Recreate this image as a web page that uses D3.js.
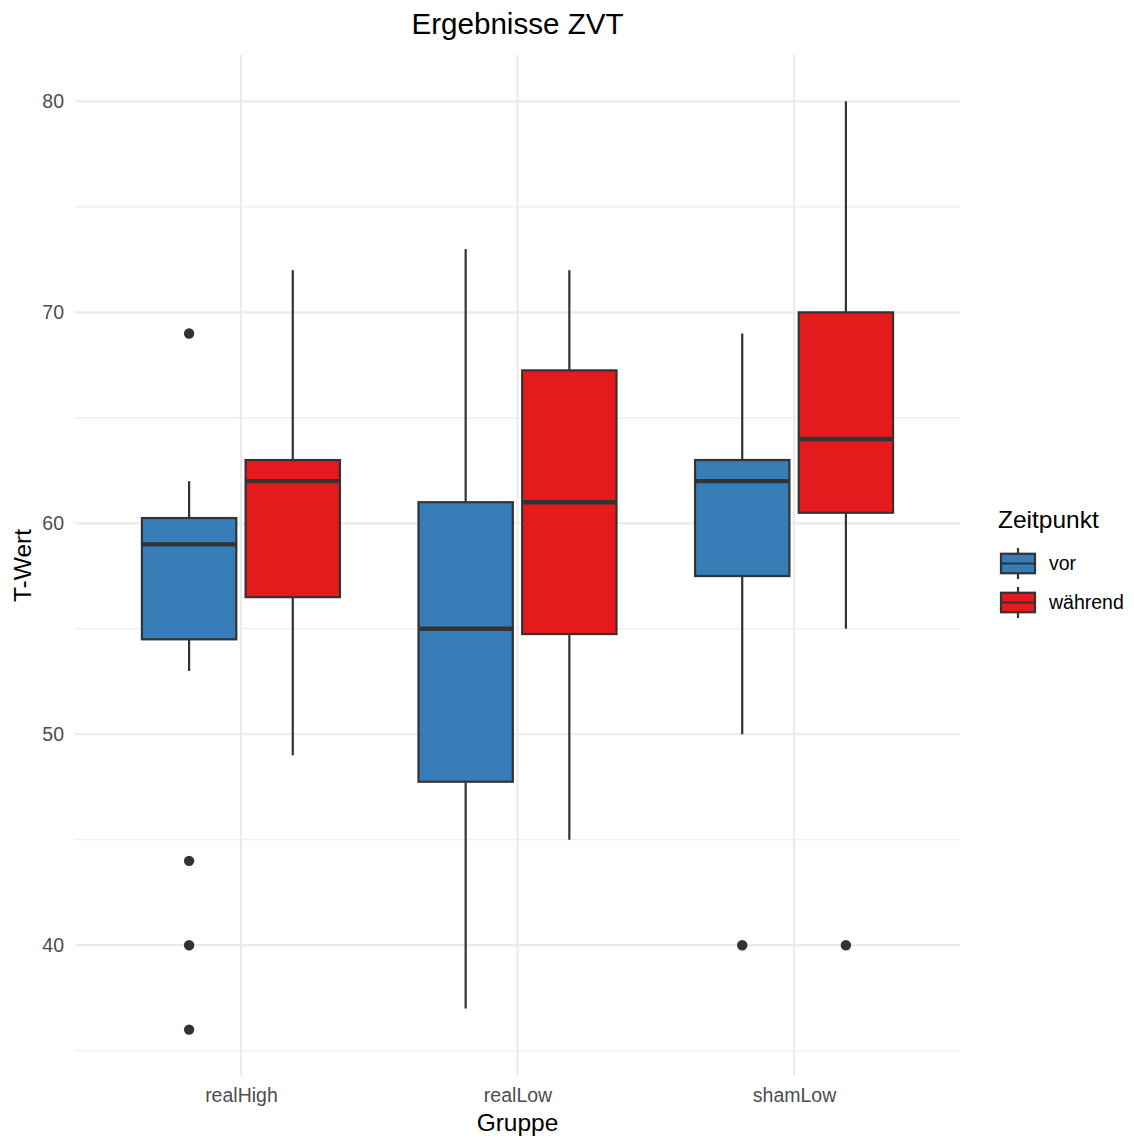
<!DOCTYPE html>
<html>
<head>
<meta charset="utf-8">
<script src="https://cdn.jsdelivr.net/npm/d3@7"></script>
<style>
	body { margin: 0; background: #fff; }
	text { font-family: "Liberation Sans", Arial, sans-serif; }
</style>
</head>
<body>
<div class="box-plot"></div>
<script>
// groups on the x axis and the two time points
var groups = ["realHigh", "realLow", "shamLow"];
var timepoints = ["vor", "während"];

// box statistics, order: realHigh vor, realHigh während, realLow vor, ...
var boxGroup = ["realHigh", "realHigh", "realLow", "realLow", "shamLow", "shamLow"];
var boxTime = ["vor", "während", "vor", "während", "vor", "während"];
var whiskerLow = [53, 49, 37, 45, 50, 55];
var q1 = [54.5, 56.5, 47.75, 54.75, 57.5, 60.5];
var median = [59, 62, 55, 61, 62, 64];
var q3 = [60.25, 63, 61, 67.25, 63, 70];
var whiskerHigh = [62, 72, 73, 72, 69, 80];

// outliers
var outlierGroup = ["realHigh", "realHigh", "realHigh", "realHigh", "shamLow", "shamLow"];
var outlierTime = ["vor", "vor", "vor", "vor", "vor", "während"];
var outlierValue = [69, 44, 40, 36, 40, 40];

var yMajorTicks = [40, 50, 60, 70, 80];
var yMinorTicks = [35, 45, 55, 65, 75];

var colors = { "vor": "#377EB8", "während": "#E41A1C" };
var lineColor = "#333333";

var W = 1134, H = 1139;
var panel = { left: 75, right: 960, top: 55, bottom: 1076 };

var svg = d3.select(".box-plot").append("svg")
	.attr("width", W)
	.attr("height", H);

var step = (panel.right - panel.left) / (groups.length - 1 + 1.2);
var xScale = d3.scalePoint()
	.domain(groups)
	.range([panel.left + 0.6 * step, panel.right - 0.6 * step]);

var yScale = d3.scaleLinear()
	.domain([33.8, 82.2])
	.range([panel.bottom, panel.top]);

var dodge = d3.scaleBand()
	.domain(timepoints)
	.range([-0.358 * step, 0.358 * step])
	.paddingInner(0.09);

// grid
var grid = svg.append("g").attr("class", "grid");
grid.selectAll(".minor").data(yMinorTicks).enter().append("line")
	.attr("x1", panel.left).attr("x2", panel.right)
	.attr("y1", function (d) { return yScale(d); })
	.attr("y2", function (d) { return yScale(d); })
	.attr("stroke", "#EBEBEB").attr("stroke-width", 1.1);
grid.selectAll(".major").data(yMajorTicks).enter().append("line")
	.attr("x1", panel.left).attr("x2", panel.right)
	.attr("y1", function (d) { return yScale(d); })
	.attr("y2", function (d) { return yScale(d); })
	.attr("stroke", "#EBEBEB").attr("stroke-width", 2.2);
grid.selectAll(".xgrid").data(groups).enter().append("line")
	.attr("x1", function (d) { return xScale(d); })
	.attr("x2", function (d) { return xScale(d); })
	.attr("y1", panel.top).attr("y2", panel.bottom)
	.attr("stroke", "#EBEBEB").attr("stroke-width", 2.2);

// axes (labels only, theme_minimal has no axis lines)
var yAxis = svg.append("g")
	.attr("transform", "translate(" + (panel.left - 4) + ",0)")
	.call(d3.axisLeft(yScale).tickValues(yMajorTicks).tickSize(0).tickPadding(7));
yAxis.select(".domain").remove();
yAxis.selectAll("text").attr("fill", "#4D4D4D").style("font-size", "19.5px")
	.style("font-family", "'Liberation Sans', Arial, sans-serif");

var xAxis = svg.append("g")
	.attr("transform", "translate(0," + (panel.bottom + 5) + ")")
	.call(d3.axisBottom(xScale).tickSize(0).tickPadding(7));
xAxis.select(".domain").remove();
xAxis.selectAll("text").attr("fill", "#4D4D4D").style("font-size", "19.5px")
	.style("font-family", "'Liberation Sans', Arial, sans-serif");

// boxes
var idx = d3.range(boxGroup.length);
var boxes = svg.selectAll(".box").data(idx).enter().append("g").attr("class", "box");

function cx(i) { return xScale(boxGroup[i]) + dodge(boxTime[i]) + dodge.bandwidth() / 2; }

boxes.append("line")
	.attr("x1", cx).attr("x2", cx)
	.attr("y1", function (i) { return yScale(whiskerHigh[i]); })
	.attr("y2", function (i) { return yScale(q3[i]); })
	.attr("stroke", lineColor).attr("stroke-width", 2.2);
boxes.append("line")
	.attr("x1", cx).attr("x2", cx)
	.attr("y1", function (i) { return yScale(q1[i]); })
	.attr("y2", function (i) { return yScale(whiskerLow[i]); })
	.attr("stroke", lineColor).attr("stroke-width", 2.2);
boxes.append("rect")
	.attr("x", function (i) { return xScale(boxGroup[i]) + dodge(boxTime[i]); })
	.attr("width", dodge.bandwidth())
	.attr("y", function (i) { return yScale(q3[i]); })
	.attr("height", function (i) { return yScale(q1[i]) - yScale(q3[i]); })
	.attr("fill", function (i) { return colors[boxTime[i]]; })
	.attr("stroke", lineColor).attr("stroke-width", 2.2);
boxes.append("line")
	.attr("x1", function (i) { return xScale(boxGroup[i]) + dodge(boxTime[i]); })
	.attr("x2", function (i) { return xScale(boxGroup[i]) + dodge(boxTime[i]) + dodge.bandwidth(); })
	.attr("y1", function (i) { return yScale(median[i]); })
	.attr("y2", function (i) { return yScale(median[i]); })
	.attr("stroke", lineColor).attr("stroke-width", 4.4);

// outliers
svg.selectAll(".outlier").data(d3.range(outlierValue.length)).enter().append("circle")
	.attr("class", "outlier")
	.attr("cx", function (i) { return xScale(outlierGroup[i]) + dodge(outlierTime[i]) + dodge.bandwidth() / 2; })
	.attr("cy", function (i) { return yScale(outlierValue[i]); })
	.attr("r", 5.2)
	.attr("fill", lineColor);

// titles
svg.append("text")
	.attr("x", (panel.left + panel.right) / 2).attr("y", 34)
	.attr("text-anchor", "middle")
	.style("font-size", "29.6px")
	.text("Ergebnisse ZVT");

svg.append("text")
	.attr("x", (panel.left + panel.right) / 2).attr("y", 1131)
	.attr("text-anchor", "middle")
	.style("font-size", "24.5px")
	.text("Gruppe");

svg.append("text")
	.attr("text-anchor", "middle")
	.attr("transform", "translate(" + 31 + "," + ((panel.top + panel.bottom) / 2) + ")rotate(-90)")
	.style("font-size", "24.5px")
	.text("T-Wert");

// legend
var legend = svg.append("g").attr("transform", "translate(998,0)");
legend.append("text")
	.attr("x", 0).attr("y", 528)
	.style("font-size", "24.5px")
	.text("Zeitpunkt");

var keyH = 39, keyW = 34;
var keys = legend.selectAll(".key").data(timepoints).enter().append("g")
	.attr("transform", function (d, i) { return "translate(3," + (544 + i * keyH) + ")"; });
keys.append("line")
	.attr("x1", keyW / 2).attr("x2", keyW / 2)
	.attr("y1", keyH * 0.1).attr("y2", keyH * 0.9)
	.attr("stroke", lineColor).attr("stroke-width", 2.2);
keys.append("rect")
	.attr("x", 0).attr("width", keyW)
	.attr("y", keyH * 0.25).attr("height", keyH * 0.5)
	.attr("fill", function (d) { return colors[d]; })
	.attr("stroke", lineColor).attr("stroke-width", 2.2);
keys.append("line")
	.attr("x1", 0).attr("x2", keyW)
	.attr("y1", keyH / 2).attr("y2", keyH / 2)
	.attr("stroke", lineColor).attr("stroke-width", 2.2);
keys.append("text")
	.attr("x", keyW + 14).attr("y", keyH / 2)
	.attr("dy", "0.35em")
	.style("font-size", "19.5px")
	.text(function (d) { return d; });
</script>
</body>
</html>
